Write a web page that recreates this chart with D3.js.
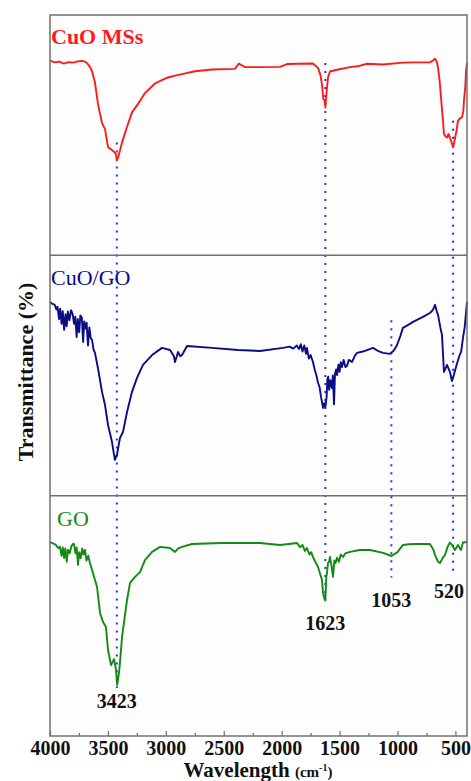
<!DOCTYPE html>
<html>
<head>
<meta charset="utf-8">
<script src="https://cdn.jsdelivr.net/npm/d3@7"></script>
<style>
  body { margin: 0; background: #fff; }
  svg text { font-family: "Liberation Serif", "Times New Roman", serif; }
</style>
</head>
<body>
<div id="chart"></div>
<script>
// FTIR spectra, wavenumber (cm-1) vs relative transmittance (0-100 inside each panel)
const cuoMsData = [
  [4000,81],[3960,80.3],[3920,80.6],[3880,79.8],[3840,80.4],[3800,80.2],[3760,80.7],[3720,80.9],[3690,80.4],
  [3672,79.5],[3650,78],[3637,76.5],[3612,72],[3586,63],[3551,55],[3525,52.5],[3499,45],[3465,43.8],[3445,43],
  [3430,42],[3423,39.5],[3410,41],[3378,47],[3335,53.5],[3292,59.5],[3240,63],[3180,67.5],[3094,71.5],[3030,73],
  [2981,74],[2920,74.8],[2860,75.4],[2748,76.6],[2601,77.3],[2403,77.6],[2370,79.8],[2340,79],[2317,78.3],
  [2187,78.3],[2014,78.4],[1954,79.6],[1850,79.7],[1730,79.8],[1686,78],[1665,75],[1652,71],[1640,65],
  [1630,64.5],[1623,61.5],[1612,68],[1600,74],[1583,76.5],[1522,77.2],[1410,78.3],[1330,78.8],[1263,79.7],
  [1125,79.4],[953,80.2],[850,80.3],[720,80.3],[690,81.2],[676,81.8],[660,80.5],[650,78],[635,72],[625,66],
  [607,56],[599,50.5],[585,49.5],[573,49],[560,50.5],[540,48],[520,45],[504,48.5],[490,52],[478,56],[460,57],
  [443,57.5],[432,60],[426,64.5],[415,70],[408,77],[400,80]
];

const cuoGoData = [
  [4000,80.6],[3980,79.8],[3960,79.5],[3945,77.5],[3935,78.6],[3922,73.5],[3912,77.8],[3900,71.5],[3890,76.8],
  [3878,69],[3866,75.5],[3856,70.5],[3845,76.6],[3832,73],[3818,77.2],[3805,75.6],[3792,71.5],[3782,74.5],
  [3770,66],[3760,73.5],[3748,68],[3738,75],[3725,74],[3714,64],[3705,72.5],[3695,69.5],[3684,72],[3672,62.5],
  [3660,70],[3648,65.5],[3637,64.8],[3625,61],[3612,59.4],[3586,53.1],[3551,43.2],[3525,37.7],[3499,29.4],
  [3465,22.4],[3440,14.9],[3422,17],[3396,24],[3370,26.5],[3335,34.8],[3292,43.2],[3249,49],[3197,54.4],
  [3119,58.5],[3033,61.5],[2964,60.6],[2930,58],[2921,55.6],[2905,58],[2895,59.8],[2875,58],[2860,58.5],
  [2817,62.3],[2601,61.5],[2377,60.6],[2187,60.2],[1989,61.5],[1930,62],[1900,61.2],[1870,62.5],[1850,61],
  [1835,63],[1820,60],[1805,62.5],[1790,59],[1782,61.5],[1765,57],[1750,58.5],[1730,55.6],[1715,52.5],
  [1700,50],[1686,47],[1672,45],[1660,41],[1652,39],[1643,36.5],[1632,38.5],[1622,37],[1612,41],[1605,48.5],
  [1598,49.5],[1590,44],[1580,48],[1566,44.8],[1558,50],[1548,38],[1540,50.5],[1530,52.5],[1522,50.2],
  [1510,54.5],[1500,51.5],[1490,55.5],[1479,53.5],[1465,56.5],[1450,53.5],[1436,54],[1420,56.5],[1393,55.6],
  [1370,58],[1350,59.4],[1281,60.2],[1212,61.5],[1160,60],[1125,59.4],[1065,59],[1030,60.5],[1004,62.7],
  [975,66.5],[953,69.8],[900,71.3],[866,72.3],[780,74.4],[720,76],[694,77.3],[676,79.4],[660,76.5],[650,75.2],
  [630,70],[616,66.9],[605,57],[599,51.5],[585,53],[573,54.4],[560,53],[547,51.5],[530,47.7],[515,50],
  [495,53.5],[469,57.7],[450,60],[435,65.6],[420,70],[408,76.4],[400,80.6]
];

const goData = [
  [4000,80.7],[3975,80.2],[3950,79.5],[3930,78.2],[3914,78.7],[3900,75],[3890,78.5],[3878,74],[3868,78],
  [3855,72.5],[3845,77.5],[3830,76],[3815,79],[3800,80],[3793,79.9],[3780,76],[3770,78.5],[3758,71.2],
  [3748,76.5],[3735,74],[3722,78],[3710,75.5],[3698,77.4],[3685,73],[3670,75],[3655,72],[3642,70],[3629,67.8],
  [3594,62],[3568,51.2],[3542,47.4],[3517,45.4],[3499,35.8],[3473,29.5],[3447,32],[3430,27.5],[3420,21.2],
  [3405,26],[3396,30.4],[3378,41.2],[3335,56.6],[3309,63.7],[3266,66.2],[3223,68.2],[3180,73.2],[3119,76.6],
  [3050,78.7],[2964,78.2],[2921,76.6],[2895,78],[2860,78.7],[2774,79.9],[2515,80.3],[2300,80.3],[2187,80.3],
  [2014,79.5],[1920,80],[1868,80.3],[1840,78.5],[1820,79.5],[1800,77],[1782,78.2],[1760,75.5],[1745,76.5],
  [1730,74.5],[1710,72.5],[1686,70.3],[1665,67],[1652,64.9],[1643,59.5],[1630,57],[1623,56.4],[1615,66],
  [1609,67.8],[1600,72],[1590,72.5],[1583,74.5],[1570,71],[1557,66.2],[1545,73],[1535,72],[1522,74.2],
  [1505,72.5],[1490,75.5],[1470,74.5],[1450,76],[1410,76.6],[1324,77.4],[1237,77.4],[1125,76.2],[1053,74.9],
  [1000,76.5],[953,79.5],[900,79.8],[832,79.9],[720,79.9],[690,77.5],[676,75.3],[650,72.5],[633,72],[610,74],
  [590,75.3],[565,79],[547,80.5],[530,79.5],[504,77.4],[478,79.5],[460,78],[452,77.4],[435,80.5],[400,80.7]
];

const seriesNames = ["CuO MSs", "CuO/GO", "GO"];
const seriesColors = ["#ff1a1a", "#0c0c84", "#138a13"];

// peak guide lines: wavenumber, [panel, T] at top and bottom
const peakWn = [3423, 1623, 1053, 520];
const peakTop = [[0, 47], [0, 80], [1, 73], [0, 56]];
const peakBottom = [[2, 20], [2, 56.5], [2, 66], [2, 67]];
const peakLabels = ["3423", "1623", "1053", "520"];
const peakLabelT = [11.7, 44, 53.7, 57.4];

const majorTicks = [4000, 3500, 3000, 2500, 2000, 1500, 1000, 500];
const minorTicks = [3750, 3250, 2750, 2250, 1750, 1250, 750];

function init() {
    const width = 471;
    const height = 781;
    const left = 50, right = 467, top = 15, bottom = 736;
    const panelH = (bottom - top) / 3;

    const x = d3.scaleLinear().domain([4000, 400]).range([left, right]);
    const yScales = [0, 1, 2].map(i =>
        d3.scaleLinear().domain([0, 100]).range([top + panelH * (i + 1), top + panelH * i]));

    const svg = d3.select("#chart").append("svg")
        .attr("width", width)
        .attr("height", height);

    svg.append("rect")
        .attr("x", left).attr("y", top)
        .attr("width", right - left).attr("height", bottom - top)
        .attr("fill", "#fdfdfd");

    // dotted guide lines
    peakWn.forEach((wn, i) => {
        svg.append("line")
            .attr("x1", x(wn)).attr("x2", x(wn))
            .attr("y1", yScales[peakTop[i][0]](peakTop[i][1]))
            .attr("y2", yScales[peakBottom[i][0]](peakBottom[i][1]))
            .attr("stroke", "#2b2bf0")
            .attr("stroke-width", 2)
            .attr("stroke-dasharray", "2,6");
    });

    // spectra
    const datasets = [cuoMsData, cuoGoData, goData];
    datasets.forEach((data, i) => {
        const line = d3.line()
            .x(d => x(d[0]))
            .y(d => yScales[i](d[1]));
        svg.append("path")
            .datum(data)
            .attr("d", line)
            .attr("fill", "none")
            .attr("stroke", seriesColors[i])
            .attr("stroke-width", 1.9)
            .attr("stroke-linejoin", "round");
    });

    // sample names
    svg.append("text").attr("x", left + 1).attr("y", 44)
        .attr("font-size", 22).attr("font-weight", "bold")
        .attr("fill", seriesColors[0]).text(seriesNames[0]);
    svg.append("text").attr("x", left + 1).attr("y", 285)
        .attr("font-size", 22)
        .attr("fill", seriesColors[1]).text(seriesNames[1]);
    svg.append("text").attr("x", left + 7).attr("y", 526)
        .attr("font-size", 22)
        .attr("fill", seriesColors[2]).text(seriesNames[2]);

    // peak labels
    peakLabels.forEach((lab, i) => {
        svg.append("text")
            .attr("x", x(peakWn[i]) + (i === 3 ? -4 : 0))
            .attr("y", yScales[2](peakLabelT[i]))
            .attr("text-anchor", "middle")
            .attr("font-size", 20).attr("font-weight", "bold")
            .attr("fill", "#111")
            .text(lab);
    });

    // panel separators and frame
    [1, 2].forEach(i => {
        svg.append("line")
            .attr("x1", left).attr("x2", right)
            .attr("y1", top + panelH * i).attr("y2", top + panelH * i)
            .attr("stroke", "#707070").attr("stroke-width", 1.5);
    });
    svg.append("rect")
        .attr("x", left).attr("y", top)
        .attr("width", right - left).attr("height", bottom - top)
        .attr("fill", "none")
        .attr("stroke", "#707070").attr("stroke-width", 1.5);

    // x axis
    const xAxis = svg.append("g")
        .attr("transform", `translate(0,${bottom})`)
        .call(d3.axisBottom(x).tickValues(majorTicks).tickSize(-5).tickPadding(5)
            .tickFormat(d3.format("d")));
    xAxis.select(".domain").remove();
    xAxis.selectAll("line").attr("stroke", "#707070").attr("stroke-width", 1.2);
    xAxis.selectAll("text")
        .attr("font-size", 20).attr("font-weight", "bold")
        .attr("font-family", "Liberation Serif, serif")
        .attr("fill", "#111");

    const xMinor = svg.append("g")
        .attr("transform", `translate(0,${bottom})`)
        .call(d3.axisBottom(x).tickValues(minorTicks).tickSize(-3).tickFormat(""));
    xMinor.select(".domain").remove();
    xMinor.selectAll("line").attr("stroke", "#707070").attr("stroke-width", 1.2);

    // axis titles
    const xt = svg.append("text")
        .attr("x", 258).attr("y", 777)
        .attr("text-anchor", "middle")
        .attr("font-weight", "bold")
        .attr("fill", "#111");
    xt.append("tspan").attr("font-size", 21).text("Wavelength ");
    xt.append("tspan").attr("font-size", 15).text("(cm");
    xt.append("tspan").attr("font-size", 10).attr("dy", -6).text("-1");
    xt.append("tspan").attr("font-size", 15).attr("dy", 6).text(")");

    svg.append("text")
        .attr("transform", "rotate(-90)")
        .attr("x", -372).attr("y", 33)
        .attr("text-anchor", "middle")
        .attr("font-size", 22).attr("font-weight", "bold")
        .attr("fill", "#111")
        .text("Transmittance (%)");
}

window.onload = init;
</script>
</body>
</html>
